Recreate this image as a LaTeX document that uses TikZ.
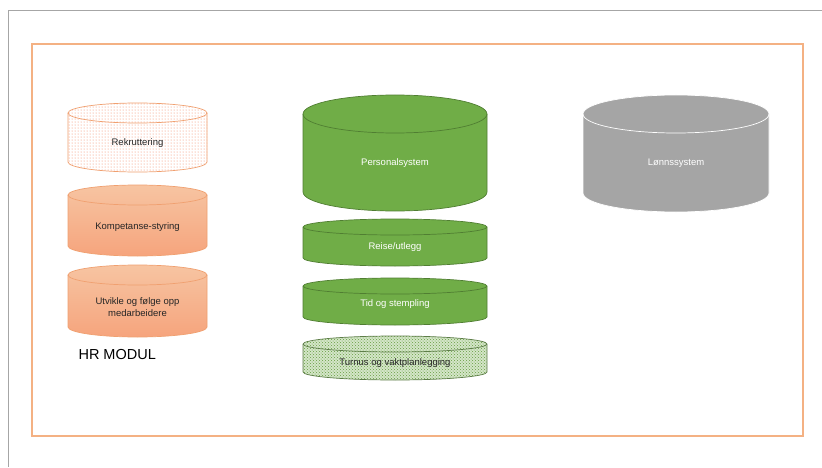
\documentclass[tikz,border=0pt]{standalone}
\usepackage{fontspec}
\setmainfont{Liberation Sans}
\usetikzlibrary{patterns}

\definecolor{hrorange}{HTML}{F4B183}
\definecolor{hredge}{HTML}{F0A070}
\definecolor{psgreen}{HTML}{70AD47}
\definecolor{psedge}{HTML}{507E32}
\definecolor{lsgray}{HTML}{A5A5A5}
\definecolor{framegray}{HTML}{A6A6A6}
\definecolor{textdark}{HTML}{262626}

% drum: body style, edge colour, centre x, half width, top edge, bottom edge, ry (pixels from top)
\newcommand{\drum}[7]{%
  \pgfmathsetmacro{\dl}{#3-#4}
  \pgfmathsetmacro{\dr}{#3+#4}
  \pgfmathsetmacro{\dt}{467-#5-#7}
  \pgfmathsetmacro{\db}{467-#6+#7}
  \path[#1] (\dl,\dt) -- (\dl,\db) arc[start angle=180, end angle=360, x radius=#4pt, y radius=#7pt]
    -- (\dr,\dt) arc[start angle=0, end angle=180, x radius=#4pt, y radius=#7pt] -- cycle;
  \draw[#2, line width=0.7pt] (\dl,\dt) -- (\dl,\db) arc[start angle=180, end angle=360, x radius=#4pt, y radius=#7pt]
    -- (\dr,\dt) arc[start angle=0, end angle=180, x radius=#4pt, y radius=#7pt] -- cycle;
  \draw[#2, line width=0.7pt] (\dl,\dt) arc[start angle=180, end angle=360, x radius=#4pt, y radius=#7pt];
}

\tikzset{
  dotdrum/.style={pattern=dots, pattern color=hredge!80!red},
  hrdrum/.style={top color=hrorange!75, bottom color=hrorange!90!red!95},
  greendrum/.style={fill=psgreen},
  checkdrum/.style={preaction={fill=psgreen!30}, pattern=crosshatch dots, pattern color=psgreen!90!black},
  graydrum/.style={fill=lsgray},
  lbl/.style={font=\fontsize{9.5}{11.5}\selectfont, text=textdark, align=center},
  wlbl/.style={lbl, text=white}
}

\begin{document}
\begin{tikzpicture}[x=1pt, y=1pt]
\useasboundingbox (0,0) rectangle (822,467);
\fill[white] (0,0) rectangle (822,467);

% frames
\draw[framegray, line width=0.8pt] (8,0) -- (8,457) -- (822,457);
\draw[hrorange, line width=1.3pt] (32,31) rectangle (803,423);

% HR modul
\drum{dotdrum}{hredge}{137.5}{69.5}{103}{172}{10}
\drum{hrdrum}{hredge}{137.5}{69.5}{185}{256}{10}
\drum{hrdrum}{hredge}{137.5}{69.5}{265}{337}{10}
\node[lbl] (rekruttering) at (137.5,324) {Rekruttering};
\node[lbl] (kompetanse) at (137.5,240) {Kompetanse-styring};
\node[lbl] (utvikle) at (137.5,160) {Utvikle og følge opp\\medarbeidere};
\node[anchor=west, font=\fontsize{14.5}{17}\selectfont] (hrmodul) at (75,112) {HR MODUL};

% personalsystem
\drum{greendrum}{psedge}{395}{92}{95}{211}{19}
\drum{greendrum}{psedge}{395}{92}{219}{266}{8}
\drum{greendrum}{psedge}{395}{92}{278}{325}{8}
\drum{checkdrum}{psedge!70!gray}{395}{92}{336}{380}{8}
\node[wlbl] (personal) at (395,304) {Personalsystem};
\node[wlbl] (reise) at (395,220) {Reise/utlegg};
\node[wlbl] (tid) at (395,163) {Tid og stempling};
\node[lbl] (turnus) at (395,104) {Turnus og vaktplanlegging};

% lønnssystem
\drum{graydrum}{white}{676}{93}{95}{212}{19}
\node[wlbl] (lonn) at (676,304) {Lønnssystem};
\end{tikzpicture}
\end{document}
